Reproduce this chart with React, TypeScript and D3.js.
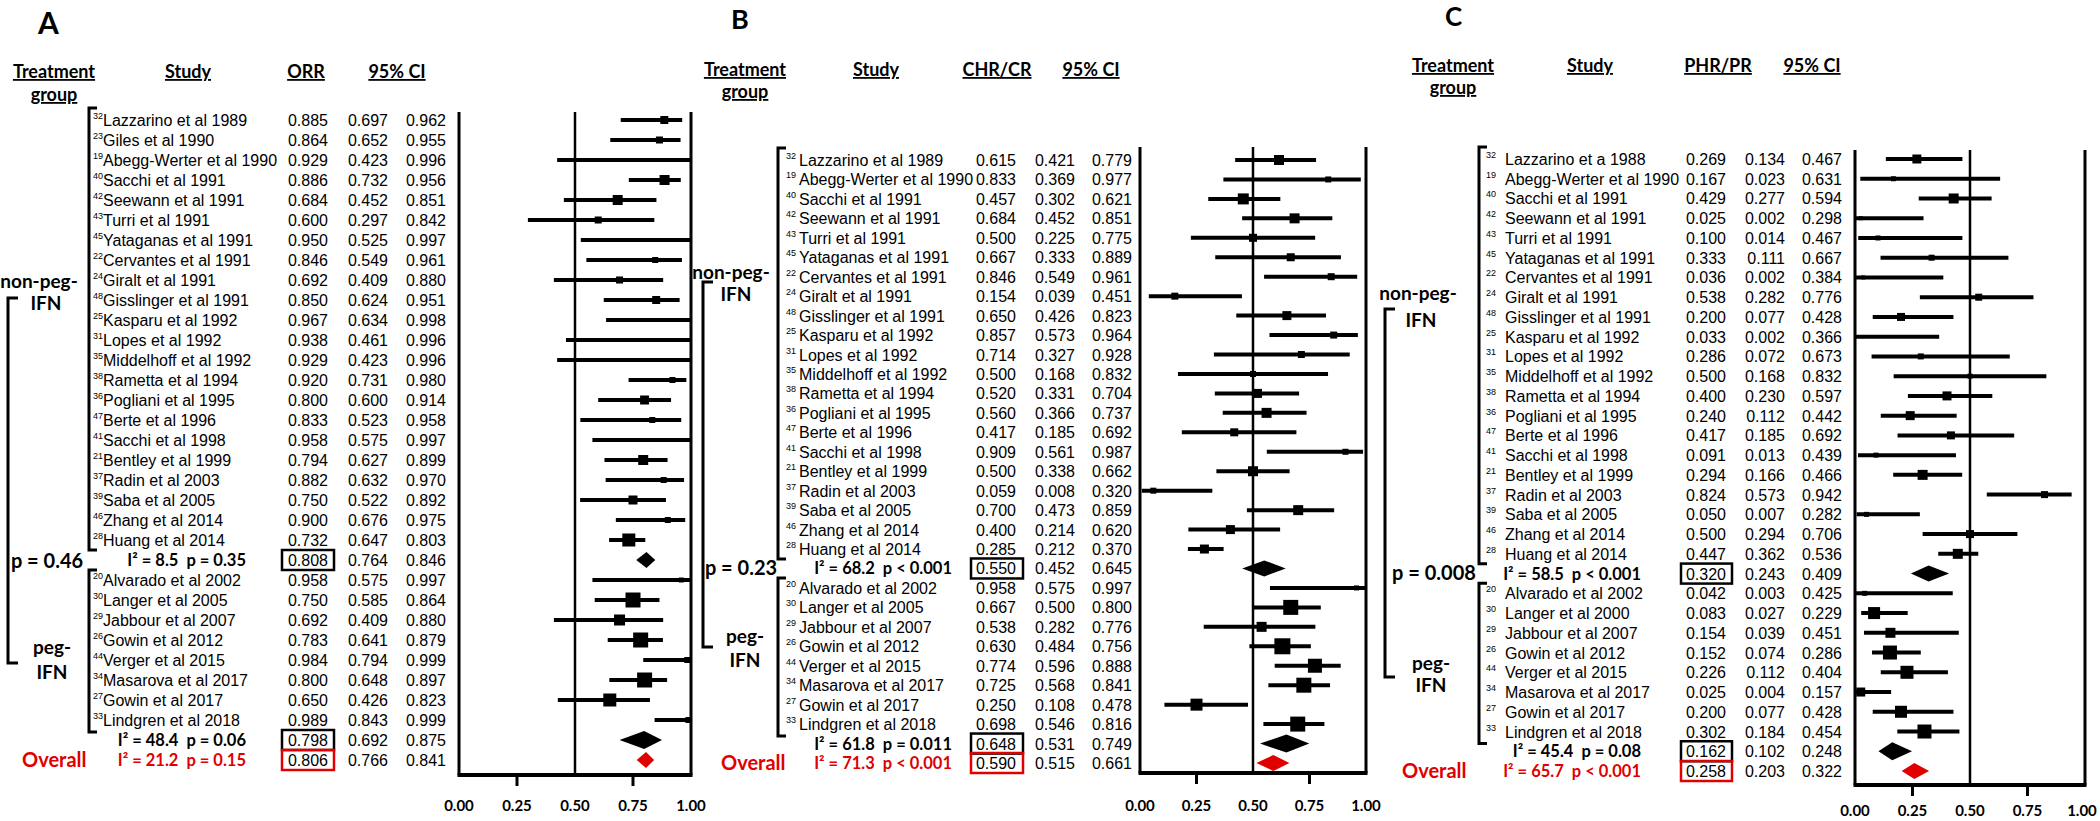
import React from 'react';
import * as d3 from 'd3';

// ---------------- Panel A (ORR) ----------------
const refsA_non = [32, 23, 19, 40, 42, 43, 45, 22, 24, 48, 25, 31, 35, 38, 36, 47, 41, 21, 37, 39, 46, 28];
const studiesA_non = ['Lazzarino et al 1989', 'Giles et al 1990', 'Abegg-Werter et al 1990', 'Sacchi et al 1991', 'Seewann et al 1991', 'Turri et al 1991', 'Yataganas et al 1991', 'Cervantes et al 1991', 'Giralt et al 1991', 'Gisslinger et al 1991', 'Kasparu et al 1992', 'Lopes et al 1992', 'Middelhoff et al 1992', 'Rametta et al 1994', 'Pogliani et al 1995', 'Berte et al 1996', 'Sacchi et al 1998', 'Bentley et al 1999', 'Radin et al 2003', 'Saba et al 2005', 'Zhang et al 2014', 'Huang et al 2014'];
const estA_non = [0.885, 0.864, 0.929, 0.886, 0.684, 0.600, 0.950, 0.846, 0.692, 0.850, 0.967, 0.938, 0.929, 0.920, 0.800, 0.833, 0.958, 0.794, 0.882, 0.750, 0.900, 0.732];
const lowA_non = [0.697, 0.652, 0.423, 0.732, 0.452, 0.297, 0.525, 0.549, 0.409, 0.624, 0.634, 0.461, 0.423, 0.731, 0.600, 0.523, 0.575, 0.627, 0.632, 0.522, 0.676, 0.647];
const highA_non = [0.962, 0.955, 0.996, 0.956, 0.851, 0.842, 0.997, 0.961, 0.880, 0.951, 0.998, 0.996, 0.996, 0.980, 0.914, 0.958, 0.997, 0.899, 0.970, 0.892, 0.975, 0.803];
const weightA_non = [8, 7, 4, 10, 10, 7, 3, 6, 7, 8, 3, 3, 3, 6, 9, 6, 3, 10, 6, 9, 6, 13];
const refsA_peg = [20, 30, 29, 26, 44, 34, 27, 33];
const studiesA_peg = ['Alvarado et al 2002', 'Langer et al 2005', 'Jabbour et al 2007', 'Gowin et al 2012', 'Verger et al 2015', 'Masarova et al 2017', 'Gowin et al 2017', 'Lindgren et al 2018'];
const estA_peg = [0.958, 0.750, 0.692, 0.783, 0.984, 0.800, 0.650, 0.989];
const lowA_peg = [0.575, 0.585, 0.409, 0.641, 0.794, 0.648, 0.426, 0.843];
const highA_peg = [0.997, 0.864, 0.880, 0.879, 0.999, 0.897, 0.823, 0.999];
const weightA_peg = [5, 15, 11, 15, 6, 15, 13, 6];
const sumLabelsA = ['I\u00B2 = 8.5  p = 0.35', 'I\u00B2 = 48.4  p = 0.06', 'I\u00B2 = 21.2  p = 0.15'];
const sumEstA = [0.808, 0.798, 0.806];
const sumLowA = [0.764, 0.692, 0.766];
const sumHighA = [0.846, 0.875, 0.841];
const groupPA = 'p = 0.46';

// ---------------- Panel B (CHR/CR) ----------------
const refsB_non = [32, 19, 40, 42, 43, 45, 22, 24, 48, 25, 31, 35, 38, 36, 47, 41, 21, 37, 39, 46, 28];
const studiesB_non = ['Lazzarino et al 1989', 'Abegg-Werter et al 1990', 'Sacchi et al 1991', 'Seewann et al 1991', 'Turri et al 1991', 'Yataganas et al 1991', 'Cervantes et al 1991', 'Giralt et al 1991', 'Gisslinger et al 1991', 'Kasparu et al 1992', 'Lopes et al 1992', 'Middelhoff et al 1992', 'Rametta et al 1994', 'Pogliani et al 1995', 'Berte et al 1996', 'Sacchi et al 1998', 'Bentley et al 1999', 'Radin et al 2003', 'Saba et al 2005', 'Zhang et al 2014', 'Huang et al 2014'];
const estB_non = [0.615, 0.833, 0.457, 0.684, 0.500, 0.667, 0.846, 0.154, 0.650, 0.857, 0.714, 0.500, 0.520, 0.560, 0.417, 0.909, 0.500, 0.059, 0.700, 0.400, 0.285];
const lowB_non = [0.421, 0.369, 0.302, 0.452, 0.225, 0.333, 0.549, 0.039, 0.426, 0.573, 0.327, 0.168, 0.331, 0.366, 0.185, 0.561, 0.338, 0.008, 0.473, 0.214, 0.212];
const highB_non = [0.779, 0.977, 0.621, 0.851, 0.775, 0.889, 0.961, 0.451, 0.823, 0.964, 0.928, 0.832, 0.704, 0.737, 0.692, 0.987, 0.662, 0.320, 0.859, 0.620, 0.370];
const weightB_non = [10, 6, 11, 10, 8, 8, 7, 7, 9, 7, 7, 6, 9, 10, 8, 6, 10, 6, 10, 9, 9];
const refsB_peg = [20, 30, 29, 26, 44, 34, 27, 33];
const studiesB_peg = ['Alvarado et al 2002', 'Langer et al 2005', 'Jabbour et al 2007', 'Gowin et al 2012', 'Verger et al 2015', 'Masarova et al 2017', 'Gowin et al 2017', 'Lindgren et al 2018'];
const estB_peg = [0.958, 0.667, 0.538, 0.630, 0.774, 0.725, 0.250, 0.698];
const lowB_peg = [0.575, 0.500, 0.282, 0.484, 0.596, 0.568, 0.108, 0.546];
const highB_peg = [0.997, 0.800, 0.776, 0.756, 0.888, 0.841, 0.478, 0.816];
const weightB_peg = [5, 15, 10, 16, 14, 15, 12, 15];
const sumLabelsB = ['I\u00B2 = 68.2  p < 0.001', 'I\u00B2 = 61.8  p = 0.011', 'I\u00B2 = 71.3  p < 0.001'];
const sumEstB = [0.550, 0.648, 0.590];
const sumLowB = [0.452, 0.531, 0.515];
const sumHighB = [0.645, 0.749, 0.661];
const groupPB = 'p = 0.23';

// ---------------- Panel C (PHR/PR) ----------------
const refsC_non = [32, 19, 40, 42, 43, 45, 22, 24, 48, 25, 31, 35, 38, 36, 47, 41, 21, 37, 39, 46, 28];
const studiesC_non = ['Lazzarino et a 1988', 'Abegg-Werter et al 1990', 'Sacchi et al 1991', 'Seewann et al 1991', 'Turri et al 1991', 'Yataganas et al 1991', 'Cervantes et al 1991', 'Giralt et al 1991', 'Gisslinger et al 1991', 'Kasparu et al 1992', 'Lopes et al 1992', 'Middelhoff et al 1992', 'Rametta et al 1994', 'Pogliani et al 1995', 'Berte et al 1996', 'Sacchi et al 1998', 'Bentley et al 1999', 'Radin et al 2003', 'Saba et al 2005', 'Zhang et al 2014', 'Huang et al 2014'];
const estC_non = [0.269, 0.167, 0.429, 0.025, 0.100, 0.333, 0.036, 0.538, 0.200, 0.033, 0.286, 0.500, 0.400, 0.240, 0.417, 0.091, 0.294, 0.824, 0.050, 0.500, 0.447];
const lowC_non = [0.134, 0.023, 0.277, 0.002, 0.014, 0.111, 0.002, 0.282, 0.077, 0.002, 0.072, 0.168, 0.230, 0.112, 0.185, 0.013, 0.166, 0.573, 0.007, 0.294, 0.362];
const highC_non = [0.467, 0.631, 0.594, 0.298, 0.467, 0.667, 0.384, 0.776, 0.428, 0.366, 0.673, 0.832, 0.597, 0.442, 0.692, 0.439, 0.466, 0.942, 0.282, 0.706, 0.536];
const weightC_non = [9, 5, 10, 4, 5, 6, 4, 7, 8, 3, 6, 5, 9, 9, 8, 5, 10, 7, 5, 8, 10];
const refsC_peg = [20, 30, 29, 26, 44, 34, 27, 33];
const studiesC_peg = ['Alvarado et al 2002', 'Langer et al 2000', 'Jabbour et al 2007', 'Gowin et al 2012', 'Verger et al 2015', 'Masarova et al 2017', 'Gowin et al 2017', 'Lindgren et al 2018'];
const estC_peg = [0.042, 0.083, 0.154, 0.152, 0.226, 0.025, 0.200, 0.302];
const lowC_peg = [0.003, 0.027, 0.039, 0.074, 0.112, 0.004, 0.077, 0.184];
const highC_peg = [0.425, 0.229, 0.451, 0.286, 0.404, 0.157, 0.428, 0.454];
const weightC_peg = [5, 12, 10, 14, 13, 9, 12, 14];
const sumLabelsC = ['I\u00B2 = 58.5  p < 0.001', 'I\u00B2 = 45.4  p = 0.08', 'I\u00B2 = 65.7  p < 0.001'];
const sumEstC = [0.320, 0.162, 0.258];
const sumLowC = [0.243, 0.102, 0.203];
const sumHighC = [0.409, 0.248, 0.322];
const groupPC = 'p = 0.008';

const axisTicks = [0, 0.25, 0.5, 0.75, 1];
const minorTicks = [0.25, 0.75];

const RED = '#e00000';
const SANS = '"Liberation Sans", Arial, sans-serif';
const BOLD = 'Lato, "Open Sans", sans-serif';
const fmt = d3.format('.3f');
const fmtTick = d3.format('.2f');

type Study = { ref: number; name: string; est: number; lo: number; hi: number; w: number };

function zipStudies(refs: number[], names: string[], est: number[], lo: number[], hi: number[], w: number[]): Study[] {
  return names.map((n, i) => ({ ref: refs[i], name: n, est: est[i], lo: lo[i], hi: hi[i], w: w[i] }));
}

const dataA = {
  non: zipStudies(refsA_non, studiesA_non, estA_non, lowA_non, highA_non, weightA_non),
  peg: zipStudies(refsA_peg, studiesA_peg, estA_peg, lowA_peg, highA_peg, weightA_peg),
  sumLabels: sumLabelsA, sumEst: sumEstA, sumLow: sumLowA, sumHigh: sumHighA, groupP: groupPA,
};
const dataB = {
  non: zipStudies(refsB_non, studiesB_non, estB_non, lowB_non, highB_non, weightB_non),
  peg: zipStudies(refsB_peg, studiesB_peg, estB_peg, lowB_peg, highB_peg, weightB_peg),
  sumLabels: sumLabelsB, sumEst: sumEstB, sumLow: sumLowB, sumHigh: sumHighB, groupP: groupPB,
};
const dataC = {
  non: zipStudies(refsC_non, studiesC_non, estC_non, lowC_non, highC_non, weightC_non),
  peg: zipStudies(refsC_peg, studiesC_peg, estC_peg, lowC_peg, highC_peg, weightC_peg),
  sumLabels: sumLabelsC, sumEst: sumEstC, sumLow: sumLowC, sumHigh: sumHighC, groupP: groupPC,
};

const layoutA = {
  letter: 'A', letterX: 38, letterY: 34, letterSize: 30,
  treatX: 54, treatY: 78, groupY: 101, hdrY: 78, studyHX: 188, estHX: 306, ciHX: 397, estHeader: 'ORR',
  supX: 93, nameX: 103, estEnd: 328, loEnd: 388, hiEnd: 446,
  plotL: 459, plotR: 691, plotTop: 112, axisY: 775, tickLabelY: 811,
  rowFirst: 120, rowLast: 760,
  innerX: 89, outerX: 8, outerTop: 298, outerBottom: 663,
  nonPegX: 39, nonPegY: 281, ifn1X: 46, ifn1Y: 303,
  pX: 47, pY: 561, pegX: 52, pegY: 647, ifn2X: 52, ifn2Y: 672,
  overallX: 22, statEnd: 246, boxL: 282, boxR: 334,
};
const layoutB = {
  letter: 'B', letterX: 731, letterY: 29, letterSize: 27,
  treatX: 745, treatY: 76, groupY: 98, hdrY: 76, studyHX: 876, estHX: 997, ciHX: 1091, estHeader: 'CHR/CR',
  supX: 786, nameX: 799, estEnd: 1016, loEnd: 1075, hiEnd: 1132,
  plotL: 1140, plotR: 1366, plotTop: 147, axisY: 773, tickLabelY: 811,
  rowFirst: 160, rowLast: 763,
  innerX: 778, outerX: 703, outerTop: 282, outerBottom: 647,
  nonPegX: 731, nonPegY: 272, ifn1X: 736, ifn1Y: 294,
  pX: 741, pY: 568, pegX: 745, pegY: 636, ifn2X: 745, ifn2Y: 660,
  overallX: 721, statEnd: 952, boxL: 971, boxR: 1023,
};
const layoutC = {
  letter: 'C', letterX: 1445, letterY: 26, letterSize: 26,
  treatX: 1453, treatY: 72, groupY: 94, hdrY: 72, studyHX: 1590, estHX: 1718, ciHX: 1812, estHeader: 'PHR/PR',
  supX: 1486, nameX: 1505, estEnd: 1726, loEnd: 1785, hiEnd: 1842,
  plotL: 1855, plotR: 2085, plotTop: 150, axisY: 785, tickLabelY: 816,
  rowFirst: 159, rowLast: 771,
  innerX: 1479, outerX: 1385, outerTop: 309, outerBottom: 677,
  nonPegX: 1418, nonPegY: 293, ifn1X: 1421, ifn1Y: 320,
  pX: 1434, pY: 573, pegX: 1431, pegY: 663, ifn2X: 1431, ifn2Y: 685,
  overallX: 1402, statEnd: 1641, boxL: 1681, boxR: 1732,
};

type Layout = typeof layoutA;
type Data = typeof dataA;

function Panel({ L, D }: { L: Layout; D: Data }) {
  const nNon = D.non.length;
  const nPeg = D.peg.length;
  const nRows = nNon + nPeg + 3;
  const y = d3.scaleLinear().domain([0, nRows - 1]).range([L.rowFirst, L.rowLast]);
  const x = d3.scaleLinear().domain([0, 1]).range([L.plotL, L.plotR]).clamp(true);
  const size = d3.scaleLinear().domain([0, 16]).range([0, 16]);

  const studyRows: { s: Study; r: number }[] = [
    ...D.non.map((s, i) => ({ s, r: i })),
    ...D.peg.map((s, i) => ({ s, r: nNon + 1 + i })),
  ];
  const sumRows = [nNon, nNon + nPeg + 1, nNon + nPeg + 2];

  const hdrStyle: React.CSSProperties = { textDecoration: 'underline' };
  const bracket = (bx: number, t: number, b: number, tick: number) =>
    `M${bx + tick},${t} H${bx} V${b} H${bx + tick}`;

  const innerTop1 = y(0) - 12;
  const innerBot1 = y(nNon - 1) + 10;
  const innerTop2 = y(nNon + 1) - 10;
  const innerBot2 = y(nNon + nPeg) + 12;

  return (
    <g>
      <text x={L.letterX} y={L.letterY} fontFamily={BOLD} fontWeight={700} fontSize={L.letterSize}>{L.letter}</text>
      {/* headers */}
      <g fontFamily={BOLD} fontWeight={700} fontSize={18} textAnchor="middle" style={hdrStyle}>
        <text x={L.treatX} y={L.treatY}>Treatment</text>
        <text x={L.treatX} y={L.groupY}>group</text>
        <text x={L.studyHX} y={L.hdrY}>Study</text>
        <text x={L.estHX} y={L.hdrY}>{L.estHeader}</text>
        <text x={L.ciHX} y={L.hdrY}>95% CI</text>
      </g>
      {/* brackets */}
      <g fill="none" stroke="#000" strokeWidth={3}>
        <path d={bracket(L.innerX, innerTop1, innerBot1, 8)} />
        <path d={bracket(L.innerX, innerTop2, innerBot2, 8)} />
        <path d={bracket(L.outerX, L.outerTop, L.outerBottom, 10)} />
      </g>
      {/* group labels */}
      <g fontFamily={BOLD} fontWeight={700} fontSize={19} textAnchor="middle">
        <text x={L.nonPegX} y={L.nonPegY + 7}>non-peg-</text>
        <text x={L.ifn1X} y={L.ifn1Y + 7}>IFN</text>
        <text x={L.pegX} y={L.pegY + 7}>peg-</text>
        <text x={L.ifn2X} y={L.ifn2Y + 7}>IFN</text>
        <text x={L.pX} y={L.pY + 7} fontSize={20}>{D.groupP}</text>
      </g>
      <text x={L.overallX} y={y(nRows - 1) + 7} fontFamily={BOLD} fontWeight={700} fontSize={20} fill={RED}>Overall</text>
      {/* study rows text */}
      <g fontFamily={SANS} fontSize={16}>
        {studyRows.map(({ s, r }) => (
          <g key={'t' + r}>
            <text x={L.supX} y={y(r) - 1} fontSize={9}>{s.ref}</text>
            <text x={L.nameX} y={y(r) + 6}>{s.name}</text>
            <text x={L.estEnd} y={y(r) + 6} textAnchor="end">{fmt(s.est)}</text>
            <text x={L.loEnd} y={y(r) + 6} textAnchor="end">{fmt(s.lo)}</text>
            <text x={L.hiEnd} y={y(r) + 6} textAnchor="end">{fmt(s.hi)}</text>
          </g>
        ))}
        {sumRows.map((r, i) => (
          <g key={'s' + r}>
            <text x={L.statEnd} y={y(r) + 6} textAnchor="end" fontFamily={BOLD} fontWeight={700} fontSize={16.5}
              fill={i === 2 ? RED : '#000'} style={{ whiteSpace: 'pre' }}>{D.sumLabels[i]}</text>
            <rect x={L.boxL} y={y(r) - 10} width={L.boxR - L.boxL} height={20} fill="none"
              stroke={i === 2 ? RED : '#000'} strokeWidth={2.5} />
            <text x={L.estEnd} y={y(r) + 6} textAnchor="end">{fmt(D.sumEst[i])}</text>
            <text x={L.loEnd} y={y(r) + 6} textAnchor="end">{fmt(D.sumLow[i])}</text>
            <text x={L.hiEnd} y={y(r) + 6} textAnchor="end">{fmt(D.sumHigh[i])}</text>
          </g>
        ))}
      </g>
      {/* plot frame */}
      <g stroke="#000" fill="none">
        <line x1={x(0)} x2={x(0)} y1={L.plotTop} y2={L.axisY} strokeWidth={3} />
        <line x1={x(1)} x2={x(1)} y1={L.plotTop} y2={L.axisY} strokeWidth={3} />
        <line x1={x(0.5)} x2={x(0.5)} y1={L.plotTop} y2={L.axisY} strokeWidth={2.5} />
        <line x1={x(0) - 1.5} x2={x(1) + 1.5} y1={L.axisY} y2={L.axisY} strokeWidth={4} />
        {minorTicks.map((t) => (
          <line key={t} x1={x(t)} x2={x(t)} y1={L.axisY} y2={L.axisY + 11} strokeWidth={3} />
        ))}
      </g>
      <g fontFamily={BOLD} fontWeight={700} fontSize={15} textAnchor="middle">
        {axisTicks.map((t) => (
          <text key={t} x={Math.min(x(t), 2082)} y={L.tickLabelY}>{fmtTick(t)}</text>
        ))}
      </g>
      {/* CI lines and squares */}
      <g>
        {studyRows.map(({ s, r }) => {
          const sz = size(s.w);
          return (
            <g key={'m' + r}>
              <line x1={x(s.lo)} x2={x(s.hi)} y1={y(r)} y2={y(r)} stroke="#000" strokeWidth={4} />
              <rect x={x(s.est) - sz / 2} y={y(r) - sz / 2} width={sz} height={sz} fill="#000" />
            </g>
          );
        })}
        {sumRows.map((r, i) => {
          const h = i === 1 ? 9 : 8;
          const pts = [
            [x(D.sumLow[i]), y(r)], [x(D.sumEst[i]), y(r) - h],
            [x(D.sumHigh[i]), y(r)], [x(D.sumEst[i]), y(r) + h],
          ].map((p) => p.join(',')).join(' ');
          return <polygon key={'d' + r} points={pts} fill={i === 2 ? RED : '#000'} />;
        })}
      </g>
    </g>
  );
}

export default function App() {
  return (
    <svg width={2100} height={821} style={{ position: 'absolute', left: 0, top: 0, background: '#fff' }}>
      <rect x={0} y={0} width={2100} height={821} fill="#fff" />
      <Panel L={layoutA} D={dataA} />
      <Panel L={layoutB} D={dataB} />
      <Panel L={layoutC} D={dataC} />
    </svg>
  );
}
